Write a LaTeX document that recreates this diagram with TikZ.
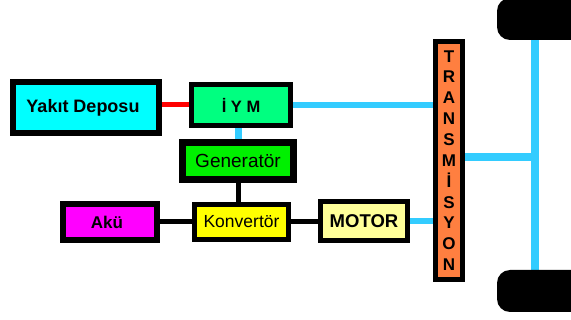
\documentclass[tikz,border=0pt]{standalone}
\usepackage{fontspec}
\setmainfont{Liberation Sans}
\usetikzlibrary{backgrounds}
\definecolor{cyanbox}{HTML}{00FFFF}
\definecolor{iymgreen}{HTML}{00FF80}
\definecolor{gengreen}{HTML}{00F000}
\definecolor{konvyellow}{HTML}{FFFF00}
\definecolor{akumag}{HTML}{FF00FF}
\definecolor{motoryellow}{HTML}{FFFF99}
\definecolor{transorange}{HTML}{FF7F40}
\definecolor{shaft}{HTML}{33CCFF}
\definecolor{fuelred}{HTML}{FF0000}
\tikzset{
  box/.style={draw=black, rectangle, inner sep=0pt, align=center},
  wheel/.style={fill=black, rectangle, rounded corners=13pt, inner sep=0pt, minimum width=90pt, minimum height=42pt},
  blueline/.style={draw=shaft, line width=6pt},
  shaftline/.style={draw=shaft, line width=8pt},
  blackline/.style={draw=black, line width=5pt},
  redline/.style={draw=fuelred, line width=5pt},
}
\begin{document}
\begin{tikzpicture}[x=1pt,y=-1pt]
\useasboundingbox (0,0) rectangle (571,320);
% nodes
\node[box, line width=6pt, fill=cyanbox, minimum width=146pt, minimum height=51pt,
      font=\fontsize{18}{18}\selectfont\bfseries] (yakit) at (86,107.5) {\hspace*{-6pt}Yakıt Deposu};
\node[box, line width=5pt, fill=iymgreen, minimum width=99pt, minimum height=41pt,
      font=\fontsize{16.5}{16.5}\selectfont\bfseries] (iym) at (241,105) {İ Y M};
\node[box, line width=7pt, fill=gengreen, minimum width=111pt, minimum height=37pt,
      font=\fontsize{19}{19}\selectfont] (gen) at (238,161) {Generatör};
\node[box, line width=5pt, fill=konvyellow, minimum width=94pt, minimum height=35pt,
      font=\fontsize{17.5}{17.5}\selectfont] (konv) at (241.5,222) {Konvertör};
\node[box, line width=6pt, fill=akumag, minimum width=94pt, minimum height=36pt,
      font=\fontsize{17}{17}\selectfont\bfseries] (aku) at (110,222) {\hspace*{-6pt}Akü};
\node[box, line width=5pt, fill=motoryellow, minimum width=87pt, minimum height=39pt,
      font=\fontsize{18.5}{18.5}\selectfont\bfseries] (motor) at (364,221) {MOTOR};
\node[box, line width=5pt, fill=transorange, minimum width=27pt, minimum height=238pt,
      font=\fontsize{17}{20.85}\selectfont\bfseries] (trans) at (449,160.5)
      {T\\R\\A\\N\\S\\M\\İ\\S\\Y\\O\\N};
\node[wheel] (wtop) at (542,19) {};
\node[wheel] (wbot) at (542,291) {};
\coordinate (axtop) at (535,38);
\coordinate (axbot) at (535,272);
\coordinate (axmid) at (535,157);
% connectors
\begin{scope}[on background layer]
\draw[redline] (iym.west -| yakit.east) -- (iym.west);
\draw[blueline] (iym.east) -- (iym.east -| trans.west);
\draw[blueline, line width=7pt] (iym.south -| gen.north) -- (gen.north);
\draw[blackline] (gen.south) -- (gen.south |- konv.north);
\draw[blackline] (aku.east) -- (aku.east -| konv.west);
\draw[blackline] (konv.east) -- (konv.east -| motor.west);
\draw[blueline] (motor.east) -- (motor.east -| trans.west);
\draw[shaftline] (trans.east |- axmid) -- (axmid);
\draw[shaftline] (axtop) -- (axbot);
\end{scope}
\end{tikzpicture}
\end{document}
